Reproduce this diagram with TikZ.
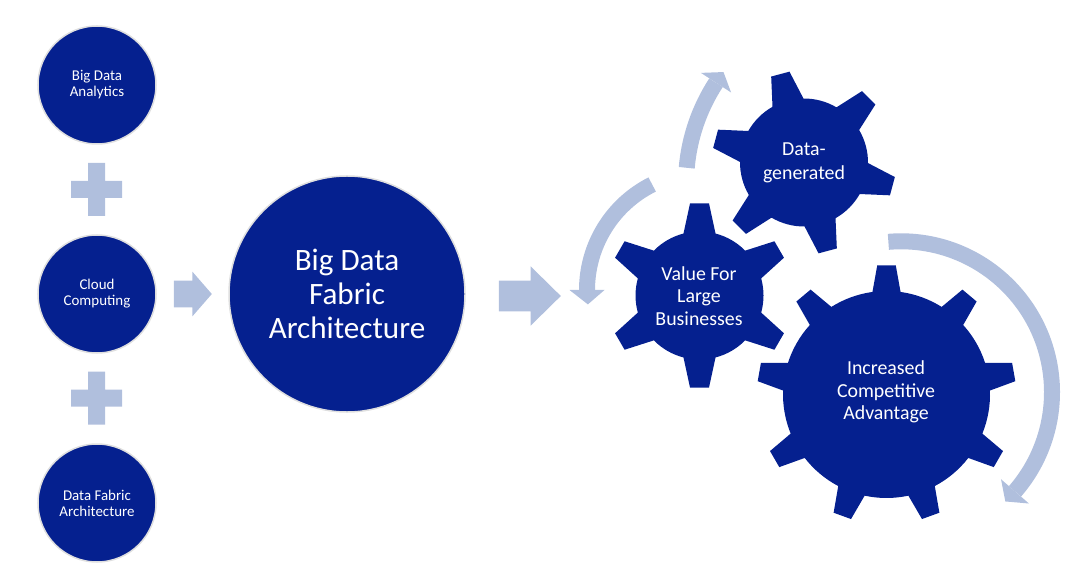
\documentclass[tikz,border=0pt]{standalone}
\usepackage{fontspec}
\setmainfont{Carlito}
\usetikzlibrary{shapes.arrows}

\definecolor{navyfill}{HTML}{05208F}
\definecolor{paleblue}{HTML}{B0BFDD}

\tikzset{
	smallball/.style={circle,fill=navyfill,draw=gray!25,line width=0.3mm,minimum size=23.6mm,inner sep=0pt,text=white,align=center,font=\fontsize{8.5}{9.1}\selectfont},
	bigball/.style={circle,fill=navyfill,draw=gray!25,line width=0.3mm,minimum size=47.2mm,inner sep=0pt,text=white,align=center,font=\fontsize{17.7}{19.3}\selectfont},
	gearlabel/.style={text=white,align=center,inner sep=0pt,font=\fontsize{11.3}{12.8}\selectfont},
	blockarrow/.style={single arrow,fill=paleblue,inner xsep=0pt,anchor=center},
	bandarc/.style={draw=paleblue,line width=3.2mm}
}

% engranaje: centro, radio, radio exterior, dientes, giro, semiangulo base, semiangulo punta
\newcommand{\cogwheel}[7]{
	\pgfmathsetmacro{\cogstep}{360/#4}
	\fill[navyfill,shift={(#1)}] (#5-#6:#2)
	\foreach \k in {1,...,#4} {
		-- ({#5+(\k-1)*\cogstep-#7}:#3) -- ({#5+(\k-1)*\cogstep+#7}:#3)
		-- ({#5+(\k-1)*\cogstep+#6}:#2)
		arc[start angle={#5+(\k-1)*\cogstep+#6},end angle={#5+\k*\cogstep-#6},radius=#2]
	} -- cycle;
}

% flecha curva: centro, radio, inicio, fin del trazo, punta, semiancho
\newcommand{\bendarrow}[6]{
	\begin{scope}[shift={(#1)}]
		\draw[bandarc] (#3:#2) arc[start angle=#3,end angle=#4,radius=#2];
		\fill[paleblue] (#4:#2+#6) -- (#5:#2) -- (#4:#2-#6) -- cycle;
	\end{scope}
}

% cruz
\newcommand{\plusmark}[1]{
	\fill[paleblue,shift={(#1)}] (-25.5,-8.5) -- (-8.5,-8.5) -- (-8.5,-26.5) -- (8.5,-26.5) -- (8.5,-8.5) -- (25.5,-8.5)
	-- (25.5,8.5) -- (8.5,8.5) -- (8.5,26.5) -- (-8.5,26.5) -- (-8.5,8.5) -- (-25.5,8.5) -- cycle;
}

\begin{document}
\begin{tikzpicture}[x=0.2mm,y=0.2mm]
	\useasboundingbox (0,0) rectangle (1080,575);

	% Circulos de la izquierda
	\node[smallball] (analytics) at (97,490) {Big Data\\Analytics};
	\node[smallball] (cloud) at (97,281) {Cloud\\Computing};
	\node[smallball] (fabric) at (97,72) {Data Fabric\\Architecture};
	\plusmark{96.5,385.5}
	\plusmark{96.5,177}

	% Circulo central
	\node[bigball] (architecture) at (347,281) {Big Data\\Fabric\\Architecture};

	% Flechas rectas
	\node[blockarrow,inner ysep=2.6mm,minimum height=7.6mm,single arrow head extend=1.8mm,single arrow tip angle=98] (arrowone) at (187,281) {};
	\node[blockarrow,inner ysep=3mm,minimum height=12.4mm,single arrow head extend=2.86mm,single arrow tip angle=89] (arrowtwo) at (522,279) {};

	% Engranajes
	\cogwheel{804,412.5}{64}{92}{6}{-15}{14.5}{5.9}
	\cogwheel{699.5,279.5}{64}{92.5}{6}{-90}{14.5}{5.9}
	\cogwheel{886.5,180.5}{103.5}{129.5}{9}{-70}{7.8}{4.1}
	\node[gearlabel] (generated) at (804,412) {Data-\\[0.9pt]generated};
	\node[gearlabel] (value) at (699,279) {Value For\\Large\\Businesses};
	\node[gearlabel] (advantage) at (886,183) {Increased\\Competitive\\Advantage};

	% Flechas curvas
	\bendarrow{872,391}{186}{175}{147}{143}{18}
	\bendarrow{705,285}{118}{116.6}{180}{187}{17.5}
	\bendarrow{901,182.7}{151}{94.8}{-41}{-46.3}{18.5}
\end{tikzpicture}
\end{document}
